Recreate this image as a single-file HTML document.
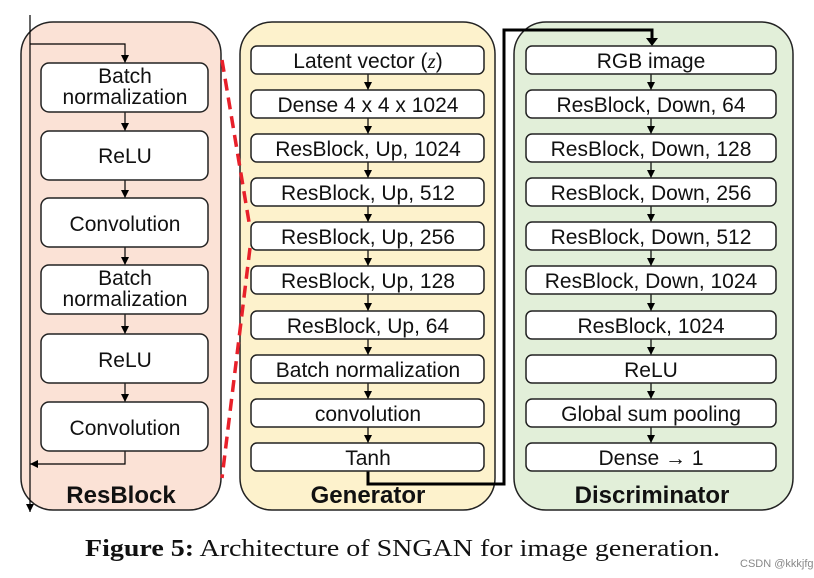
<!DOCTYPE html>
<html><head><meta charset="utf-8"><style>body{margin:0;background:#fff}svg{display:block}</style></head><body>
<svg width="814" height="578" viewBox="0 0 814 578" xmlns="http://www.w3.org/2000/svg" font-family="Liberation Sans, DejaVu Sans, sans-serif">
<defs>
<marker id="ar" viewBox="0 0 10 10" refX="10" refY="5" markerWidth="8" markerHeight="8" orient="auto" markerUnits="userSpaceOnUse"><path d="M0,0 L10,5 L0,10z" fill="#000"/></marker></defs>
<rect x="21" y="22" width="200" height="488" rx="32" fill="#fbe2d6" stroke="#222" stroke-width="1.5"/>
<rect x="240" y="22" width="255" height="488" rx="32" fill="#fdf2cc" stroke="#222" stroke-width="1.5"/>
<rect x="514" y="22" width="279" height="488" rx="32" fill="#e2efd9" stroke="#222" stroke-width="1.5"/>
<g stroke="#e8202a" stroke-width="3.5" stroke-dasharray="12,7" fill="none"><line x1="222" y1="60" x2="250" y2="228"/><line x1="250" y1="248" x2="222" y2="478"/></g>
<g stroke="#000" stroke-width="1.2" fill="none">
<line x1="30" y1="15" x2="30" y2="512" marker-end="url(#ar)"/>
<polyline points="30,44 125,44 125,63" marker-end="url(#ar)"/>
<line x1="125" y1="112" x2="125" y2="131" marker-end="url(#ar)"/>
<line x1="125" y1="180" x2="125" y2="198" marker-end="url(#ar)"/>
<line x1="125" y1="247" x2="125" y2="265" marker-end="url(#ar)"/>
<line x1="125" y1="314" x2="125" y2="334" marker-end="url(#ar)"/>
<line x1="125" y1="383" x2="125" y2="402" marker-end="url(#ar)"/>
<polyline points="125,451 125,464 30,464" marker-end="url(#ar)"/>
</g>
<g fill="#fff" stroke="#222" stroke-width="1.5">
<rect x="41" y="63" width="167" height="49" rx="8"/><rect x="41" y="131" width="167" height="49" rx="8"/><rect x="41" y="198" width="167" height="49" rx="8"/><rect x="41" y="265" width="167" height="49" rx="8"/><rect x="41" y="334" width="167" height="49" rx="8"/><rect x="41" y="402" width="167" height="49" rx="8"/>
</g>
<g font-size="21" text-anchor="middle" fill="#111">
<text x="125" y="83">Batch</text><text x="125" y="104">normalization</text>
<text x="125" y="163">ReLU</text><text x="125" y="231">Convolution</text>
<text x="125" y="285">Batch</text><text x="125" y="306">normalization</text>
<text x="125" y="367">ReLU</text><text x="125" y="435">Convolution</text>
</g>
<g font-size="24" font-weight="bold" text-anchor="middle" fill="#111">
<text x="121" y="503">ResBlock</text><text x="368" y="503">Generator</text><text x="652" y="503">Discriminator</text></g>
<g stroke="#000" stroke-width="1.2">
<line x1="368" y1="74" x2="368" y2="90" marker-end="url(#ar)"/><line x1="368" y1="118" x2="368" y2="134" marker-end="url(#ar)"/><line x1="368" y1="162" x2="368" y2="178" marker-end="url(#ar)"/><line x1="368" y1="206" x2="368" y2="222" marker-end="url(#ar)"/><line x1="368" y1="250" x2="368" y2="266" marker-end="url(#ar)"/><line x1="368" y1="294" x2="368" y2="311" marker-end="url(#ar)"/><line x1="368" y1="339" x2="368" y2="355" marker-end="url(#ar)"/><line x1="368" y1="383" x2="368" y2="399" marker-end="url(#ar)"/><line x1="368" y1="427" x2="368" y2="443" marker-end="url(#ar)"/>
<line x1="651" y1="74" x2="651" y2="90" marker-end="url(#ar)"/><line x1="651" y1="118" x2="651" y2="134" marker-end="url(#ar)"/><line x1="651" y1="162" x2="651" y2="178" marker-end="url(#ar)"/><line x1="651" y1="206" x2="651" y2="222" marker-end="url(#ar)"/><line x1="651" y1="250" x2="651" y2="266" marker-end="url(#ar)"/><line x1="651" y1="294" x2="651" y2="311" marker-end="url(#ar)"/><line x1="651" y1="339" x2="651" y2="355" marker-end="url(#ar)"/><line x1="651" y1="383" x2="651" y2="399" marker-end="url(#ar)"/><line x1="651" y1="427" x2="651" y2="443" marker-end="url(#ar)"/>
</g>
<polyline points="368,471 368,484 504,484 504,30 652,30 652,40" fill="none" stroke="#000" stroke-width="3"/>
<path d="M646,38 L658,38 L652,46z" fill="#000"/>
<g fill="#fff" stroke="#222" stroke-width="1.5">
<rect x="251" y="46" width="233" height="28" rx="6"/><rect x="251" y="90" width="233" height="28" rx="6"/><rect x="251" y="134" width="233" height="28" rx="6"/><rect x="251" y="178" width="233" height="28" rx="6"/><rect x="251" y="222" width="233" height="28" rx="6"/><rect x="251" y="266" width="233" height="28" rx="6"/><rect x="251" y="311" width="233" height="28" rx="6"/><rect x="251" y="355" width="233" height="28" rx="6"/><rect x="251" y="399" width="233" height="28" rx="6"/><rect x="251" y="443" width="233" height="28" rx="6"/>
<rect x="526" y="46" width="250" height="28" rx="6"/><rect x="526" y="90" width="250" height="28" rx="6"/><rect x="526" y="134" width="250" height="28" rx="6"/><rect x="526" y="178" width="250" height="28" rx="6"/><rect x="526" y="222" width="250" height="28" rx="6"/><rect x="526" y="266" width="250" height="28" rx="6"/><rect x="526" y="311" width="250" height="28" rx="6"/><rect x="526" y="355" width="250" height="28" rx="6"/><rect x="526" y="399" width="250" height="28" rx="6"/><rect x="526" y="443" width="250" height="28" rx="6"/>
</g>
<g font-size="21" text-anchor="middle" fill="#111">
<text x="368" y="68">Latent vector (<tspan font-family="Liberation Serif, serif" font-style="italic">z</tspan>)</text>
<text x="368" y="112">Dense 4 x 4 x 1024</text><text x="368" y="156">ResBlock, Up, 1024</text><text x="368" y="200">ResBlock, Up,  512</text><text x="368" y="244">ResBlock, Up, 256</text><text x="368" y="288">ResBlock, Up, 128</text><text x="368" y="333">ResBlock, Up, 64</text><text x="368" y="377">Batch normalization</text><text x="368" y="421">convolution</text><text x="368" y="465">Tanh</text>
<text x="651" y="68">RGB image</text><text x="651" y="112">ResBlock, Down, 64</text><text x="651" y="156">ResBlock, Down, 128</text><text x="651" y="200">ResBlock, Down,  256</text><text x="651" y="244">ResBlock, Down, 512</text><text x="651" y="288">ResBlock, Down, 1024</text><text x="651" y="333">ResBlock, 1024</text><text x="651" y="377">ReLU</text><text x="651" y="421">Global sum pooling</text><text x="651" y="465">Dense <tspan font-weight="bold">→</tspan> 1</text>
</g>
<text x="85" y="556" font-family="Liberation Serif, serif" font-size="24" fill="#111" textLength="635" lengthAdjust="spacingAndGlyphs"><tspan font-weight="bold">Figure 5:</tspan> Architecture of SNGAN for image generation.</text>
<text x="740" y="567" font-size="11" fill="#888">CSDN @kkkjfg</text>
</svg>
</body></html>
